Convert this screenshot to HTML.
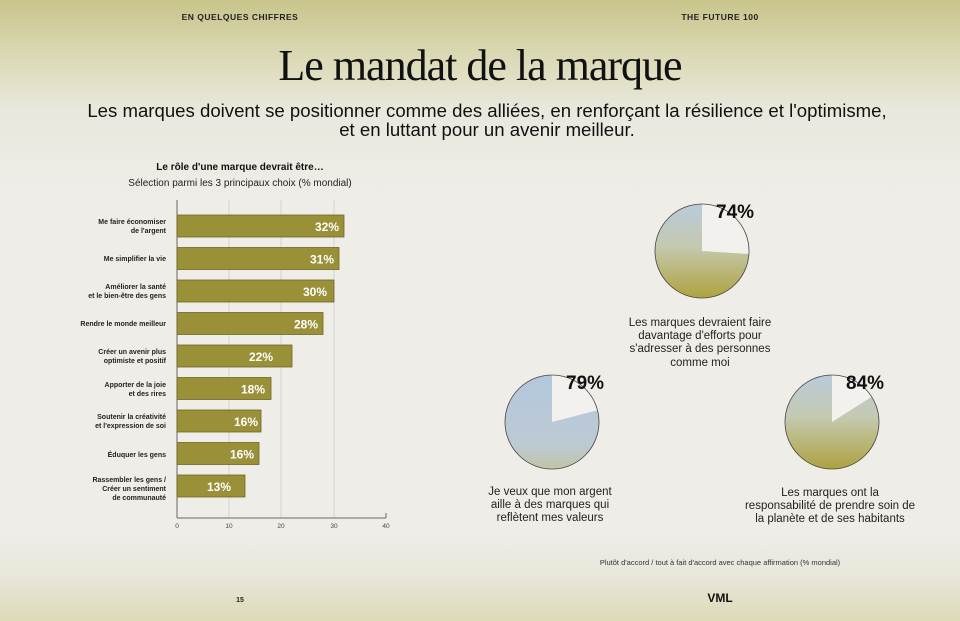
<!DOCTYPE html>
<html><head><meta charset="utf-8"><style>
body{margin:0;width:960px;height:621px;overflow:hidden;font-family:"Liberation Sans",sans-serif;}
.bg{position:absolute;left:0;top:0;width:960px;height:621px;background:linear-gradient(180deg,#c8c48a 0px,#d9d7b0 50px,#e9e8dd 110px,#eeede8 200px,#eeede8 530px,#e8e7da 575px,#dcdab8 621px);}
</style></head><body>
<div class="bg"></div>
<svg width="960" height="621" style="position:absolute;left:0;top:0" font-family="Liberation Sans, sans-serif">
<defs>
<linearGradient id="g1" x1="0" y1="0" x2="0" y2="1"><stop offset="0" stop-color="#b9cadb"/><stop offset="0.45" stop-color="#c5c9b0"/><stop offset="1" stop-color="#aea23e"/></linearGradient>
<linearGradient id="g2" x1="0" y1="0" x2="0" y2="1"><stop offset="0" stop-color="#b3c7de"/><stop offset="0.75" stop-color="#bccad2"/><stop offset="1" stop-color="#c2c3a6"/></linearGradient>
</defs>
<text x="240" y="20" font-size="8.5" font-weight="bold" text-anchor="middle" fill="#222" letter-spacing="0.5">EN QUELQUES CHIFFRES</text>
<text x="720" y="20" font-size="8.5" font-weight="bold" text-anchor="middle" fill="#222" letter-spacing="0.5">THE FUTURE 100</text>
<text x="480" y="80" font-size="44" font-family="Liberation Serif, serif" text-anchor="middle" fill="#111" letter-spacing="-1">Le mandat de la marque</text>
<text x="487" y="117" font-size="18.6" text-anchor="middle" fill="#111">Les marques doivent se positionner comme des alliées, en renforçant la résilience et l'optimisme,</text>
<text x="487" y="136" font-size="18.6" text-anchor="middle" fill="#111">et en luttant pour un avenir meilleur.</text>
<text x="240" y="170" font-size="10" font-weight="bold" text-anchor="middle" fill="#111">Le rôle d'une marque devrait être…</text>
<text x="240" y="186" font-size="10" text-anchor="middle" fill="#222">Sélection parmi les 3 principaux choix (% mondial)</text>
<g stroke="#d4d4d0" stroke-width="1"><line x1="229" y1="200" x2="229" y2="518"/><line x1="281" y1="200" x2="281" y2="518"/><line x1="334" y1="200" x2="334" y2="518"/></g>
<line x1="177" y1="200" x2="177" y2="518" stroke="#666"/>
<line x1="177" y1="518" x2="386" y2="518" stroke="#666"/>
<line x1="386" y1="513" x2="386" y2="518" stroke="#666"/>
<g font-size="6.5" fill="#444" text-anchor="middle"><text x="177" y="528">0</text><text x="229" y="528">10</text><text x="281" y="528">20</text><text x="334" y="528">30</text><text x="386" y="528">40</text></g>
<g fill="#9a9038" stroke="#6f6724" stroke-width="0.8">
<rect x="177" y="215" width="167" height="22"/>
<rect x="177" y="247.5" width="162" height="22"/>
<rect x="177" y="280" width="157" height="22"/>
<rect x="177" y="312.5" width="146" height="22"/>
<rect x="177" y="345" width="115" height="22"/>
<rect x="177" y="377.5" width="94" height="22"/>
<rect x="177" y="410" width="84" height="22"/>
<rect x="177" y="442.5" width="82" height="22"/>
<rect x="177" y="475" width="68" height="22"/>
</g>
<g font-size="12" font-weight="bold" fill="#fff" text-anchor="end">
<text x="339" y="231">32%</text><text x="334" y="263.5">31%</text><text x="327" y="296">30%</text><text x="318" y="328.5">28%</text><text x="273" y="361">22%</text><text x="265" y="393.5">18%</text><text x="258" y="426">16%</text><text x="254" y="458.5">16%</text><text x="231" y="491">13%</text>
</g>
<g font-size="7" font-weight="bold" fill="#222" text-anchor="end">
<text x="166" y="224">Me faire économiser</text><text x="166" y="233">de l'argent</text>
<text x="166" y="261">Me simplifier la vie</text>
<text x="166" y="289">Améliorer la santé</text><text x="166" y="298">et le bien-être des gens</text>
<text x="166" y="326">Rendre le monde meilleur</text>
<text x="166" y="354">Créer un avenir plus</text><text x="166" y="363">optimiste et positif</text>
<text x="166" y="387">Apporter de la joie</text><text x="166" y="396">et des rires</text>
<text x="166" y="419">Soutenir la créativité</text><text x="166" y="428">et l'expression de soi</text>
<text x="166" y="457">Éduquer les gens</text>
<text x="166" y="482">Rassembler les gens /</text><text x="166" y="491">Créer un sentiment</text><text x="166" y="500">de communauté</text>
</g>
<circle cx="702" cy="251" r="47" fill="url(#g1)"/>
<path d="M702 251 L702 204 A47 47 0 0 1 749 254 Z" fill="#f2f1ee"/>
<circle cx="702" cy="251" r="47" fill="none" stroke="#444" stroke-width="0.8"/>
<circle cx="552" cy="422" r="47" fill="url(#g2)"/>
<path d="M552 422 L552 375 A47 47 0 0 1 597.5 410.3 Z" fill="#f2f1ee"/>
<circle cx="552" cy="422" r="47" fill="none" stroke="#444" stroke-width="0.8"/>
<circle cx="832" cy="422" r="47" fill="url(#g1)"/>
<path d="M832 422 L832 375 A47 47 0 0 1 871.7 396.8 Z" fill="#f2f1ee"/>
<circle cx="832" cy="422" r="47" fill="none" stroke="#444" stroke-width="0.8"/>
<g font-size="19" font-weight="bold" fill="#111">
<text x="716" y="218">74%</text><text x="566" y="389">79%</text><text x="846" y="389">84%</text>
</g>
<g font-size="11.5" fill="#222" text-anchor="middle">
<text x="700" y="326">Les marques devraient faire</text><text x="700" y="339">davantage d'efforts pour</text><text x="700" y="352">s'adresser à des personnes</text><text x="700" y="366">comme moi</text>
<text x="550" y="495">Je veux que mon argent</text><text x="550" y="508">aille à des marques qui</text><text x="550" y="521">reflètent mes valeurs</text>
<text x="830" y="496">Les marques ont la</text><text x="830" y="509">responsabilité de prendre soin de</text><text x="830" y="522">la planète et de ses habitants</text>
</g>
<text x="720" y="565" font-size="7.5" fill="#333" text-anchor="middle">Plutôt d'accord / tout à fait d'accord avec chaque affirmation (% mondial)</text>
<text x="240" y="602" font-size="7" font-weight="bold" fill="#222" text-anchor="middle">15</text>
<text x="720" y="602" font-size="12" font-weight="bold" fill="#111" text-anchor="middle">VML</text>
</svg>
</body></html>
